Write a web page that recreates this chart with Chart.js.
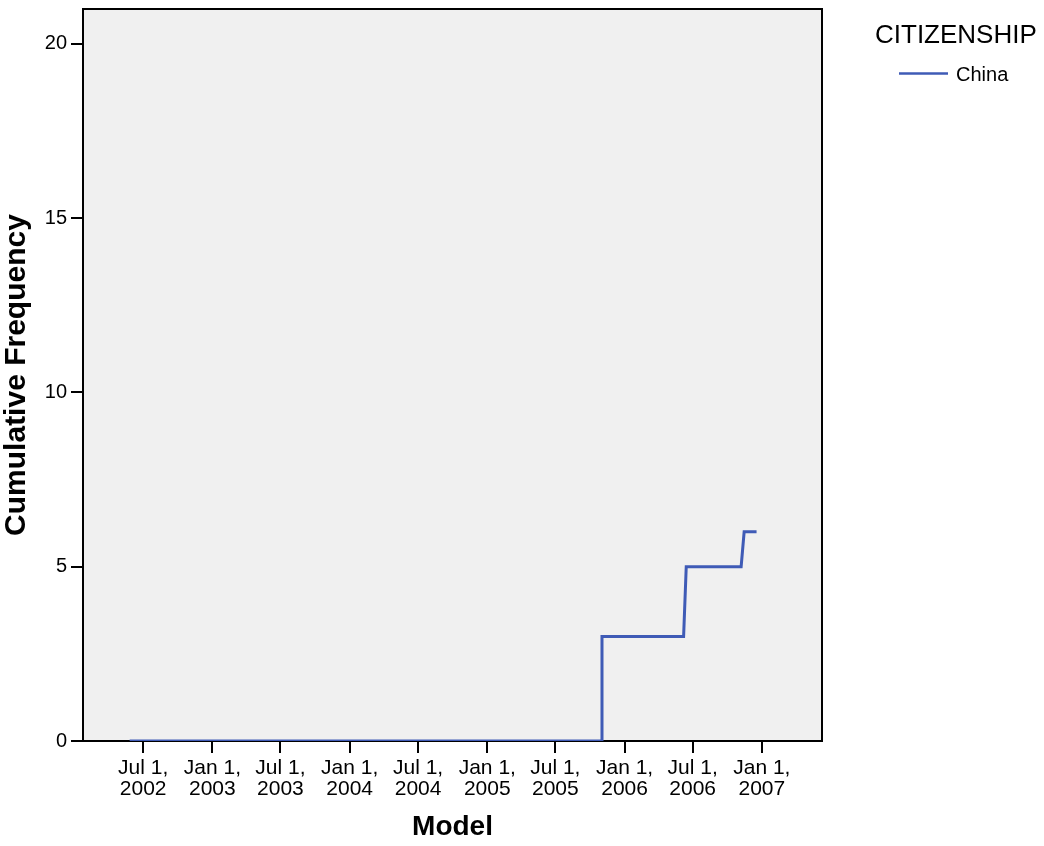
<!DOCTYPE html>
<html>
<head>
<meta charset="utf-8">
<script src="https://cdn.jsdelivr.net/npm/chart.js@4/dist/chart.umd.min.js"></script>
<style>
  html, body { margin: 0; padding: 0; background: #ffffff; }
  #wrap { position: relative; width: 1044px; height: 846px; }
</style>
</head>
<body>
<div id="wrap"><canvas id="chart" width="1044" height="846"></canvas></div>
<script>
// cumulative frequency of CITIZENSHIP = China over model date
const legendTitle = 'CITIZENSHIP';
const seriesName = 'China';
const seriesDates = ['2002-05-26', '2005-11-02', '2005-11-02', '2006-06-07', '2006-06-14', '2006-11-07', '2006-11-15', '2006-12-18'];
const seriesValues = [0, 0, 3, 3, 5, 5, 6, 6];

const tickDates = ['2002-07-01', '2003-01-01', '2003-07-01', '2004-01-01', '2004-07-01',
                   '2005-01-01', '2005-07-01', '2006-01-01', '2006-07-01', '2007-01-01'];
const tickLabels = [['Jul 1,', '2002'], ['Jan 1,', '2003'], ['Jul 1,', '2003'], ['Jan 1,', '2004'], ['Jul 1,', '2004'],
                    ['Jan 1,', '2005'], ['Jul 1,', '2005'], ['Jan 1,', '2006'], ['Jul 1,', '2006'], ['Jan 1,', '2007']];
const xRange = ['2002-01-22', '2007-06-10'];
const yTicks = [0, 5, 10, 15, 20];
const yMax = 21;

const toDay = s => Date.parse(s + 'T00:00:00Z') / 86400000;
const tickDays = tickDates.map(toDay);

const lineColor = '#3f5bb6';
const font = 'Arial, "Liberation Sans", sans-serif';

// grey plot background and black frame, drawn under the line
const plotFrame = {
    id: 'plotFrame',
    beforeDatasetsDraw(chart) {
        const a = chart.chartArea, ctx = chart.ctx;
        ctx.save();
        ctx.fillStyle = '#f0f0f0';
        ctx.fillRect(a.left, a.top, a.right - a.left, a.bottom - a.top);
        ctx.strokeStyle = '#000';
        ctx.lineWidth = 2;
        ctx.strokeRect(a.left, a.top, a.right - a.left, a.bottom - a.top);
        ctx.restore();
    }
};

const sideLegend = {
    id: 'sideLegend',
    afterDraw(chart) {
        const ctx = chart.ctx;
        ctx.save();
        ctx.fillStyle = '#000';
        ctx.textBaseline = 'alphabetic';
        ctx.textAlign = 'left';
        ctx.font = '26px ' + font;
        ctx.fillText(legendTitle, 875, 43);
        ctx.strokeStyle = chart.data.datasets[0].borderColor;
        ctx.lineWidth = 2.5;
        ctx.beginPath();
        ctx.moveTo(899, 73.5);
        ctx.lineTo(948, 73.5);
        ctx.stroke();
        ctx.font = '20px ' + font;
        ctx.fillText(chart.data.datasets[0].label, 956, 81);
        ctx.restore();
    }
};

new Chart(document.getElementById('chart'), {
    type: 'line',
    data: {
        datasets: [{
            label: seriesName,
            data: seriesDates.map((d, i) => ({ x: toDay(d), y: seriesValues[i] })),
            borderColor: lineColor,
            borderWidth: 3,
            pointRadius: 0,
            tension: 0,
            fill: false
        }]
    },
    options: {
        responsive: false,
        animation: false,
        layout: { padding: { top: 9, right: 222, bottom: 0, left: 0 } },
        plugins: { legend: { display: false }, tooltip: { enabled: false } },
        scales: {
            x: {
                type: 'linear',
                min: toDay(xRange[0]),
                max: toDay(xRange[1]),
                afterBuildTicks: s => { s.ticks = tickDays.map(v => ({ value: v })); },
                afterFit: s => { s.height = 105; s.paddingLeft = 0; s.paddingRight = 0; },
                grid: { drawOnChartArea: false, drawTicks: true, tickLength: 12, color: '#000', lineWidth: 2 },
                border: { display: false },
                ticks: {
                    autoSkip: false,
                    maxRotation: 0,
                    padding: 5,
                    color: '#000',
                    font: { family: font, size: 21, lineHeight: 0.98 },
                    callback: v => tickLabels[tickDays.indexOf(v)]
                },
                title: {
                    display: true,
                    text: 'Model',
                    color: '#000',
                    font: { family: font, size: 28, weight: 'bold', lineHeight: 1.2 },
                    padding: { top: 0, bottom: 2 }
                }
            },
            y: {
                min: 0,
                max: yMax,
                afterBuildTicks: s => { s.ticks = yTicks.map(v => ({ value: v })); },
                afterFit: s => { s.width = 83; s.paddingTop = 0; s.paddingBottom = 0; },
                grid: { drawOnChartArea: false, drawTicks: true, tickLength: 12, color: '#000', lineWidth: 2 },
                border: { display: false },
                ticks: {
                    padding: 4,
                    color: '#000',
                    font: { family: font, size: 20 }
                },
                title: {
                    display: true,
                    text: 'Cumulative Frequency',
                    color: '#000',
                    font: { family: font, size: 30, weight: 'bold', lineHeight: 1.0 },
                    padding: { top: 2, bottom: 0 }
                }
            }
        }
    },
    plugins: [plotFrame, sideLegend]
});
</script>
</body>
</html>
